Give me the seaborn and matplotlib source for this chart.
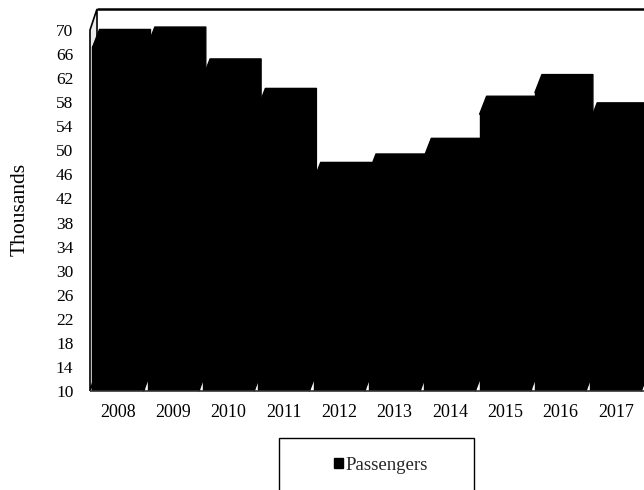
import matplotlib
matplotlib.use("Agg")
import matplotlib.pyplot as plt
from matplotlib.patches import Polygon, Rectangle, Patch
import pandas as pd
import seaborn as sns

# Annual passengers, in thousands
years = ["2008", "2009", "2010", "2011", "2012", "2013", "2014", "2015", "2016", "2017"]
passengers = [67.1, 67.5, 62.2, 57.3, 45.0, 46.4, 49.0, 56.0, 59.6, 54.9]
y_ticks = list(range(10, 71, 4))

sns.set_theme(style="white")
plt.rcParams["font.family"] = ["Liberation Serif", "DejaVu Serif"]

W, H = 644, 490
fig = plt.figure(figsize=(W / 100, H / 100), dpi=100)
fig.patch.set_facecolor("white")

# Layout of the front plane in pixels
floor_px, top70_px, back_top_px = 391, 30, 9
left_px, pitch_px, first_center_px = 90, 55.3, 118
px_per_val = (floor_px - top70_px) / 60.0

ax = fig.add_axes([left_px / W, (H - floor_px) / H,
                   (W - left_px) / W, (floor_px - back_top_px) / H])
ax.set_facecolor("white")

ymin = 10
ymax = ymin + (floor_px - back_top_px) / px_per_val
xmin = (left_px - first_center_px) / pitch_px
xmax = (W - first_center_px) / pitch_px

df = pd.DataFrame({"Year": years, "Passengers": passengers})
sns.barplot(data=df, x="Year", y="Passengers", color="black", saturation=1,
            width=51 / pitch_px, errorbar=None, ax=ax)
ax.set_xlim(xmin, xmax)
ax.set_ylim(ymin, ymax)

# Oblique depth offsets for the pseudo-3D look
bar_dx, bar_dy = 7 / pitch_px, 18 / px_per_val
wall_dx, wall_dy = 7 / pitch_px, 21 / px_per_val

# Side wall, back wall rim and floor edge
ax.add_patch(Polygon([(xmin, ymin), (xmin, 70), (xmin + wall_dx, 70 + wall_dy),
                      (xmin + wall_dx, ymin + wall_dy)], closed=True,
                     facecolor="#ececec", edgecolor="black", lw=1.2,
                     zorder=1, clip_on=False))
ax.plot([xmin + wall_dx, xmax], [70 + wall_dy] * 2, color="black", lw=1.8,
        zorder=1, clip_on=False, solid_capstyle="butt")

# Top and side faces of every column, layered left to right
for i, bar in enumerate(ax.patches[:len(years)]):
    xl = bar.get_x()
    xr = xl + bar.get_width()
    v = bar.get_height()
    bar.set_edgecolor("black")
    bar.set_linewidth(1.0)
    bar.set_zorder(5 + 2 * i + 1)
    ax.add_patch(Polygon([(xl, v), (xl + bar_dx, v + bar_dy), (xr + bar_dx, v + bar_dy),
                          (xr + bar_dx, ymin + bar_dy), (xr, ymin), (xr, v)],
                         closed=True, facecolor="black", edgecolor="black", lw=1.0,
                         joinstyle="round", zorder=5 + 2 * i, clip_on=False))
    # cover the shared edge between front and top faces
    ax.plot([xl, xr + bar_dx * 0.5], [v, v], color="black", lw=1.5,
            zorder=5 + 2 * i + 1, clip_on=False, solid_capstyle="butt")

ax.plot([xmin, xmax], [ymin, ymin], color="#333333", lw=1.2, zorder=40,
        clip_on=False, solid_capstyle="butt")

for s in ax.spines.values():
    s.set_visible(False)

ax.set_yticks(y_ticks)
ax.set_yticklabels([str(t) for t in y_ticks])
ax.tick_params(axis="y", length=0, pad=12, labelsize=12.5, colors="black")
ax.tick_params(axis="x", length=0, pad=9, labelsize=13, colors="black")
ax.set_xlabel("")
ax.set_ylabel("Thousands", fontsize=15.5, color="black")
ax.yaxis.label.set_verticalalignment("center")
ax.yaxis.set_label_coords((20 - left_px) / (W - left_px),
                          (floor_px - 209) / (floor_px - back_top_px))

# Legend box below the chart
fig.add_artist(Rectangle((279 / W, -3 / H), 195 / W, 55 / H, transform=fig.transFigure,
                         fill=False, edgecolor="black", lw=1.0))
fig.legend(handles=[Patch(facecolor="black", edgecolor="black", label="Passengers")],
           loc="center", bbox_to_anchor=(381 / W, (H - 465) / H), frameon=False,
           fontsize=13.5, handlelength=0.48, handleheight=0.48, handletextpad=0.15,
           borderpad=0, borderaxespad=0)

fig.savefig("out.png", dpi=100, facecolor="white")
